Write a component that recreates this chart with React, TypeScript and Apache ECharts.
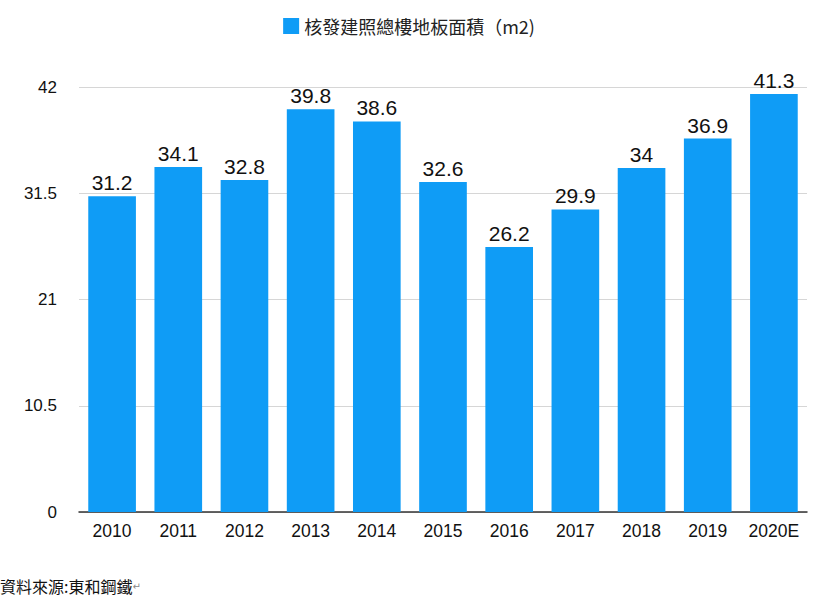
import React, { useEffect, useRef } from "react";
import * as echarts from "echarts";

const categories = ["2010", "2011", "2012", "2013", "2014", "2015", "2016", "2017", "2018", "2019", "2020E"];
const values = [31.2, 34.1, 32.8, 39.8, 38.6, 32.6, 26.2, 29.9, 34, 36.9, 41.3];
const seriesName = "核發建照總樓地板面積（m2)";
const yTicks = [0, 10.5, 21, 31.5, 42];
const sourceText = "資料來源:東和鋼鐵";

const FONT = "'Liberation Sans', Arial, 'Noto Sans CJK TC', sans-serif";

export default function App() {
  const ref = useRef<HTMLDivElement>(null);
  useEffect(() => {
    if (!ref.current) return;
    const chart = echarts.init(ref.current, undefined, { renderer: "svg" });
    chart.setOption({
      animation: false,
      textStyle: { fontFamily: FONT },
      legend: {
        top: 12,
        left: "center",
        itemWidth: 16,
        itemHeight: 16,
        itemGap: 13,
        icon: "rect",
        textStyle: { fontSize: 18, color: "#222", fontFamily: "'Noto Sans CJK TC', " + FONT },
        data: [seriesName],
      },
      grid: { left: 79, right: 11, top: 87, bottom: 87, containLabel: false },
      xAxis: {
        type: "category",
        data: categories,
        axisLine: { lineStyle: { color: "#333", width: 1.5 } },
        axisTick: { show: false },
        axisLabel: { fontSize: 17.5, color: "#111", margin: 10, interval: 0, hideOverlap: false },
      },
      yAxis: {
        type: "value",
        min: 0,
        max: 42,
        interval: 10.5,
        axisLine: { show: false },
        axisTick: { show: false },
        axisLabel: {
          fontSize: 17,
          color: "#111",
          margin: 22,
          customValues: yTicks,
          formatter: (v: number) => String(v),
        },
        splitLine: { lineStyle: { color: "#d6d6d6", width: 1 } },
      },
      series: [
        {
          name: seriesName,
          type: "bar",
          data: values,
          barCategoryGap: "28%",
          itemStyle: { color: "#0f9cf6" },
          label: {
            show: true,
            position: "top",
            distance: 3,
            fontSize: 21,
            color: "#111",
          },
        },
      ],
      graphic: [
        {
          type: "text",
          left: 0,
          top: 578,
          style: {
            text: "{a|" + sourceText + "}{b|↵}",
            rich: {
              a: { fontSize: 16, fill: "#111", fontFamily: "'Noto Sans CJK TC', sans-serif" },
              b: { fontSize: 10, fill: "#888", fontFamily: "'DejaVu Sans', sans-serif" },
            },
          },
        },
      ],
    });
    return () => chart.dispose();
  }, []);
  return (
    <div
      ref={ref}
      style={{ position: "absolute", left: 0, top: 0, width: 818, height: 599, background: "#fff" }}
    />
  );
}
